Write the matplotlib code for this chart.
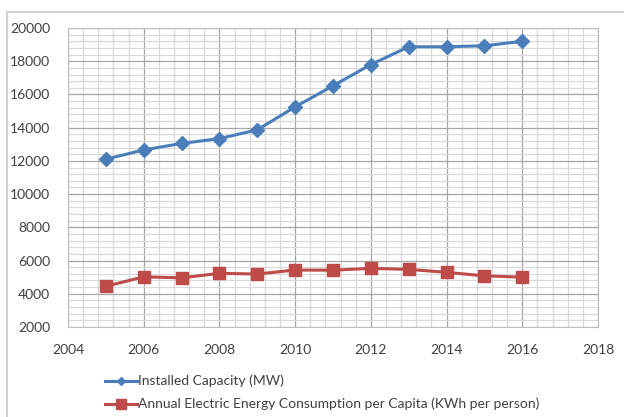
import matplotlib
matplotlib.use("Agg")
import matplotlib.pyplot as plt
from matplotlib.ticker import MultipleLocator
from matplotlib.patches import Rectangle

plt.rcParams['font.family'] = ['Lato', 'DejaVu Sans']

years = [2005, 2006, 2007, 2008, 2009, 2010, 2011, 2012, 2013, 2014, 2015, 2016]
capacity = [12100, 12660, 13050, 13340, 13870, 15250, 16520, 17800, 18870, 18870, 18930, 19200]
consumption = [4450, 5020, 4960, 5230, 5190, 5430, 5420, 5530, 5470, 5290, 5080, 5000]

cap_label = 'Installed Capacity (MW)'
cons_label = 'Annual Electric Energy Consumption per Capita (KWh per person)'

fig = plt.figure(figsize=(6.24, 4.17), dpi=100)
ax = fig.add_axes([68/624, 1-327/417, 530/624, 299/417])

ax.plot(years, capacity, color='#4a7ebb', lw=2.2, marker='D', ms=7,
        label=cap_label, zorder=3)
ax.plot(years, consumption, color='#be4b48', lw=2.2, marker='s', ms=8,
        label=cons_label, zorder=3)

ax.set_xlim(2004, 2018)
ax.set_ylim(2000, 20000)
ax.xaxis.set_major_locator(MultipleLocator(2))
ax.xaxis.set_minor_locator(MultipleLocator(0.4))
ax.yaxis.set_major_locator(MultipleLocator(2000))
ax.yaxis.set_minor_locator(MultipleLocator(400))
ax.grid(which='major', color='#a6a6a6', lw=0.9, zorder=1)
ax.grid(which='minor', color='#d9d9d9', lw=0.9, zorder=0)
ax.tick_params(which='both', length=0, labelsize=10, colors='#404040')
ax.tick_params(axis='x', pad=12)
ax.tick_params(axis='y', pad=13)
for s in ax.spines.values():
    s.set_color('#bfbfbf')

leg = fig.legend(loc='upper left', bbox_to_anchor=(98/624, 1-368/417), frameon=False,
                 fontsize=10, handlelength=2.3, handletextpad=0.05, labelspacing=0.75,
                 labelcolor='#404040', borderpad=0)
leg.legend_handles[0].set_markersize(4.5)
leg.legend_handles[1].set_markersize(7.5)

# outer chart border
fig.patches.append(Rectangle((7/624, -0.1), 1.1, 1-12/417+0.1, transform=fig.transFigure,
                             fill=False, edgecolor='#c8c8c8', lw=1.2, clip_on=False))

fig.savefig('out.png', dpi=100)
